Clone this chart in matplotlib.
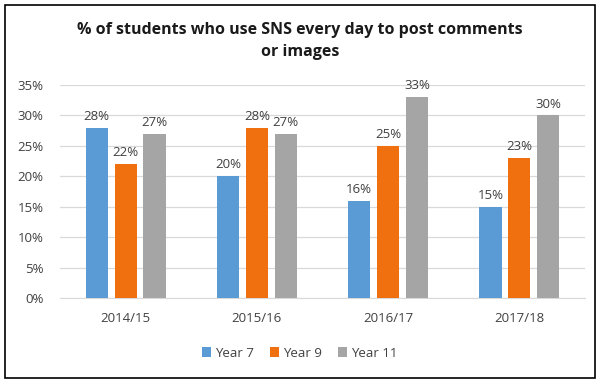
import numpy as np
import matplotlib.pyplot as plt
from matplotlib.patches import Rectangle

years = ['2014/15', '2015/16', '2016/17', '2017/18']
series = ['Year 7', 'Year 9', 'Year 11']
year7 = [28, 20, 16, 15]
year9 = [22, 28, 25, 23]
year11 = [27, 27, 33, 30]
colors = ['#5B9BD5', '#F07010', '#A5A5A5']

plt.rcParams['font.family'] = ['Open Sans', 'DejaVu Sans']

fig = plt.figure(figsize=(6, 3.85), dpi=100)
ax = fig.add_axes([0.1, 0.226, 0.875, 0.553])

x = np.arange(len(years))
w = 0.168
step = 0.22
for i, (vals, c, name) in enumerate(zip([year7, year9, year11], colors, series)):
    pos = x + (i - 1) * step
    bars = ax.bar(pos, vals, width=w, color=c, label=name, zorder=3)
    for p, v in zip(pos, vals):
        ax.text(p, v + 0.8, f'{v}%', ha='center', va='bottom', fontsize=9.5, color='#404040')

ax.set_ylim(0, 35)
ax.set_xlim(-0.5, len(years) - 0.5)
ax.set_yticks(range(0, 36, 5))
ax.set_yticklabels([f'{t}%' for t in range(0, 36, 5)])
ax.set_xticks(x)
ax.set_xticklabels(years)
ax.tick_params(axis='both', length=0, labelsize=9.5, colors='#404040')
ax.tick_params(axis='y', pad=12)
ax.tick_params(axis='x', pad=10)
ax.grid(axis='y', color='#D9D9D9', linewidth=0.9, zorder=0)
for s in ['top', 'right', 'left']:
    ax.spines[s].set_visible(False)
ax.spines['bottom'].set_color('#D9D9D9')

fig.text(0.5, 0.922, '% of students who use SNS every day to post comments',
         ha='center', va='center', fontsize=11.5, fontweight='bold', color='#1a1a1a')
fig.text(0.5, 0.865, 'or images', ha='center', va='center',
         fontsize=11.5, fontweight='bold', color='#1a1a1a')

fig.legend(loc='center', bbox_to_anchor=(0.5, 0.083), ncol=3, frameon=False,
           fontsize=9.5, handlelength=0.7, handleheight=0.7, handletextpad=0.3,
           columnspacing=1.2, labelcolor='#404040')

fig.patches.append(Rectangle((5 / 600, 1 - 378 / 385), 590 / 600, 373 / 385,
                             transform=fig.transFigure, fill=False,
                             edgecolor='black', linewidth=1.2))

fig.savefig('out.png', dpi=100, facecolor='white')
